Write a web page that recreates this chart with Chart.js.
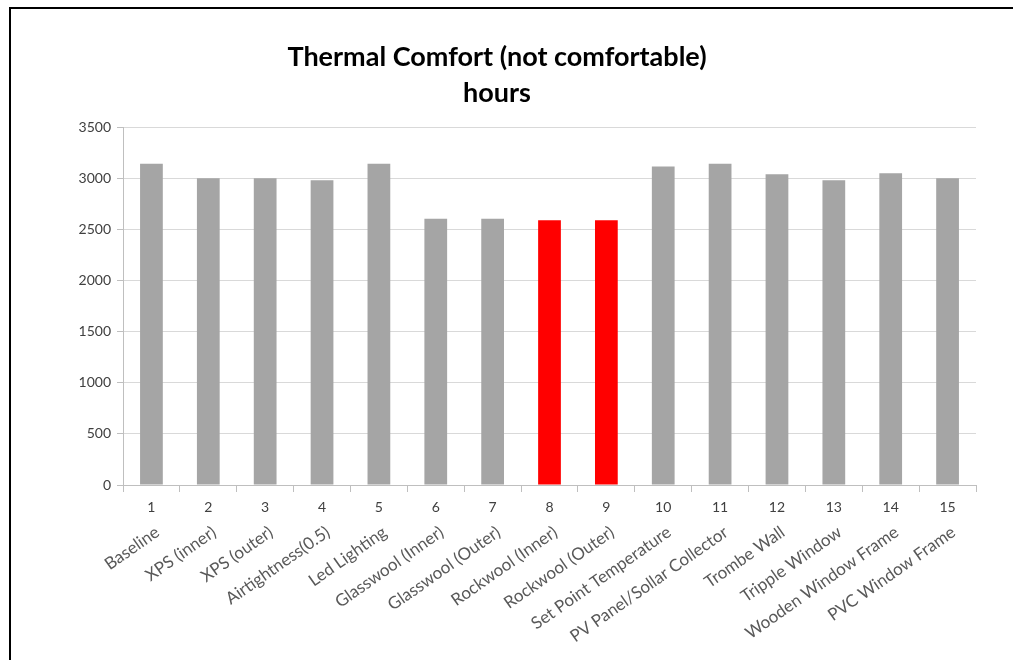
<!DOCTYPE html>
<html>
<head>
<meta charset="utf-8">
<script src="https://cdn.jsdelivr.net/npm/chart.js@4"></script>
<style>
  html, body { margin: 0; padding: 0; background: #fff; overflow: hidden; }
  canvas { display: block; }
</style>
</head>
<body>
<canvas id="c" width="1013" height="660"></canvas>
<script>
const numbers = ['1','2','3','4','5','6','7','8','9','10','11','12','13','14','15'];
const scenarios = ['Baseline','XPS (inner)','XPS (outer)','Airtightness(0.5)','Led Lighting',
  'Glasswool (Inner)','Glasswool (Outer)','Rockwool (Inner)','Rockwool (Outer)',
  'Set Point Temperature','PV Panel/Sollar Collector','Trombe Wall','Tripple Window',
  'Wooden Window Frame','PVC Window Frame'];
const hours = [3147, 3007, 3007, 2987, 3147, 2610, 2610, 2595, 2595, 3121, 3147, 3046, 2987, 3056, 3007];
const highlighted = ['Rockwool (Inner)', 'Rockwool (Outer)'];
const yTicks = [0, 500, 1000, 1500, 2000, 2500, 3000, 3500];

const GRAY = '#a5a5a5', RED = '#ff0000';
const FONT = 'Lato, "Open Sans", sans-serif';

const framePlugin = {
  id: 'frame',
  beforeDraw(chart) {
    const ctx = chart.ctx;
    ctx.save();
    ctx.fillStyle = '#fff';
    ctx.fillRect(0, 0, chart.width, chart.height);
    ctx.strokeStyle = '#000';
    ctx.lineWidth = 2;
    ctx.beginPath();
    ctx.moveTo(10, chart.height);
    ctx.lineTo(10, 8);
    ctx.lineTo(chart.width, 8);
    ctx.stroke();
    ctx.restore();
  }
};

new Chart(document.getElementById('c'), {
  type: 'bar',
  data: {
    labels: numbers,
    datasets: [{
      data: hours,
      backgroundColor: scenarios.map(s => highlighted.includes(s) ? RED : GRAY),
      categoryPercentage: 1,
      barPercentage: 0.4,
      borderWidth: 0
    }]
  },
  plugins: [framePlugin],
  options: {
    responsive: false,
    animation: false,
    devicePixelRatio: 1,
    layout: { padding: { left: 18, right: 37, top: 0, bottom: 0 } },
    plugins: {
      legend: { display: false },
      tooltip: { enabled: false },
      title: {
        display: true,
        text: ['Thermal Comfort (not comfortable)', 'hours'],
        color: '#000',
        font: { family: FONT, size: 27, weight: 'bold', lineHeight: 1.33 },
        padding: { top: 39, bottom: 17 }
      }
    },
    scales: {
      y: {
        min: 0, max: 3500,
        afterBuildTicks: s => { s.ticks = yTicks.map(v => ({ value: v })); },
        afterFit: s => { s.width = 105; },
        grid: { color: '#d9d9d9', lineWidth: 1, tickLength: 6, tickColor: '#bfbfbf' },
        border: { color: '#bfbfbf', width: 1 },
        ticks: { color: '#404040', font: { family: FONT, size: 14 }, padding: 6,
                 callback: v => String(v) }
      },
      x: {
        position: 'bottom',
        offset: true,
        afterFit: s => { s.height = 30; },
        grid: { display: true, drawOnChartArea: false, offset: true, tickLength: 7, color: '#bfbfbf' },
        border: { color: '#bfbfbf', width: 1 },
        ticks: { color: '#404040', font: { family: FONT, size: 14 }, padding: 7, maxRotation: 0, autoSkip: false }
      },
      x2: {
        type: 'category',
        labels: scenarios,
        position: 'bottom',
        offset: true,
        afterFit: s => { s.height = 145; },
        grid: { display: false, drawTicks: false },
        border: { display: false },
        ticks: { color: '#595959', font: { family: FONT, size: 17 }, padding: 7, labelOffset: 6,
                 minRotation: 35, maxRotation: 35, autoSkip: false }
      }
    }
  }
});
</script>
</body>
</html>
